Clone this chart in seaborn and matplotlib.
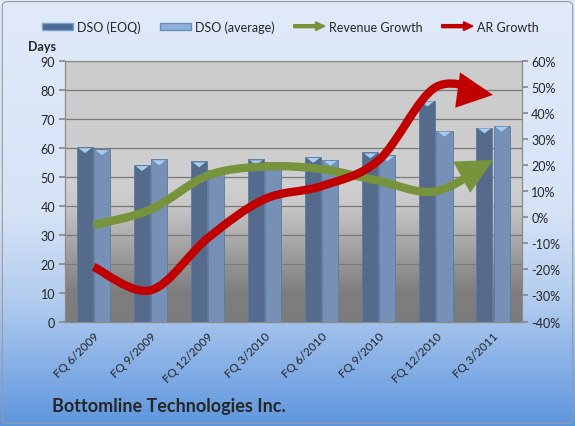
import numpy as np
import matplotlib
matplotlib.use('Agg')
import matplotlib.pyplot as plt
import matplotlib.patches as mpatches
from matplotlib.path import Path
from matplotlib.legend_handler import HandlerPatch
import matplotlib.colors as mcolors
import pandas as pd
import seaborn as sns


# ==========================
# DADOS
# ==========================

quarters = ['FQ 6/2009', 'FQ 9/2009', 'FQ 12/2009', 'FQ 3/2010',
            'FQ 6/2010', 'FQ 9/2010', 'FQ 12/2010', 'FQ 3/2011']

dso_eoq = [60.2, 54.0, 55.3, 56.0, 56.8, 58.4, 76.3, 67.0]
dso_avg = [59.5, 56.0, 52.5, 55.2, 55.8, 57.4, 65.9, 67.6]

revenue_growth = [-3, 3, 16, 19.5, 18.5, 14, 10, 22]
ar_growth = [-19, -28, -8, 7, 12, 22, 50, 47]

# ==========================
# CONFIGURAÇÕES
# ==========================

sns.set_theme(style='white')
plt.rcParams['font.family'] = ['Lato', 'DejaVu Sans']

C_EOQ = '#4a6a96'
C_AVG = '#6b8fc0'
C_GREEN = '#77933c'
C_RED = '#c00000'

fig = plt.figure(figsize=(5.75, 4.27), dpi=100)

# fundo da figura (gradiente azul)
bg = fig.add_axes([0, 0, 1, 1], zorder=-10)
bg.axis('off')
cmap_bg = mcolors.LinearSegmentedColormap.from_list(
    'bg', [(0, '#5e96de'), (0.3, '#b4cdef'), (0.5, '#d6e3f7'), (1, '#e0eafa')]
)
bg.imshow(np.linspace(0, 1, 256).reshape(-1, 1), aspect='auto', cmap=cmap_bg,
          origin='lower', extent=[0, 1, 0, 1])
bg.set_xlim(0, 1)
bg.set_ylim(0, 1)
bg.add_patch(mpatches.FancyBboxPatch(
    (0.004, 0.006), 0.992, 0.988, boxstyle='round,pad=0,rounding_size=0.01',
    fill=False, edgecolor='#9a9a9a', linewidth=0.8, transform=bg.transAxes))

ax = fig.add_axes([0.113, 0.2447, 0.794, 0.610])

# fundo do gráfico (gradiente cinza)
cmap_pa = mcolors.LinearSegmentedColormap.from_list(
    'pa', [(0, '#7b7b7b'), (0.12, '#7f7f7f'), (0.45, '#c8c8c8'),
           (0.52, '#cfcfcf'), (1, '#cbcbcb')]
)
ax.imshow(np.linspace(0, 1, 256).reshape(-1, 1), aspect='auto', cmap=cmap_pa,
          origin='lower', extent=[0, 1, 0, 1], transform=ax.transAxes,
          zorder=0)

# ==========================
# BARRAS
# ==========================

df = pd.DataFrame({
    'quarter': quarters * 2,
    'dso': dso_eoq + dso_avg,
    'serie': ['DSO (EOQ)'] * len(quarters) + ['DSO (average)'] * len(quarters),
})

sns.barplot(
    data=df, x='quarter', y='dso', hue='serie',
    palette=[C_EOQ, C_AVG], width=0.6, gap=0.06,
    edgecolor='#5d7aa3', linewidth=0.6, legend=False, ax=ax, zorder=3
)

# brilho no topo das barras
for p in ax.patches:
    if isinstance(p, mpatches.Rectangle) and p.get_height() > 0:
        x0, w, h = p.get_x(), p.get_width(), p.get_height()
        ax.add_patch(mpatches.Polygon(
            [(x0 + w * 0.1, h - 0.3), (x0 + w * 0.9, h - 0.3),
             (x0 + w * 0.5, h - 2.0)],
            closed=True, facecolor='#a9cdf2', edgecolor='none', zorder=4))

ax.set_ylim(0, 90)
ax.set_xlim(-0.5, len(quarters) - 0.5)
ax.set_yticks(range(0, 91, 10))
ax.grid(axis='y', color='#7a7a7a', linewidth=0.9, zorder=1)
ax.set_axisbelow(True)
ax.set_xlabel('')
ax.set_ylabel('')

ax.set_xticks(range(len(quarters)))
ax.set_xticklabels(quarters, rotation=45, ha='right', rotation_mode='anchor',
                   fontsize=8.5)
ax.set_xticks(np.arange(-0.5, len(quarters), 1), minor=True)
ax.tick_params(axis='x', which='major', length=0, pad=6)
ax.tick_params(axis='x', which='minor', length=4, color='#8a8a8a', width=0.8)
ax.tick_params(axis='y', length=4, color='#8a8a8a', labelsize=9, pad=3,
               left=True)

for s in ax.spines.values():
    s.set_color('#8a8a8a')
    s.set_linewidth(0.8)

ax.text(-0.081, 1.035, 'Days', transform=ax.transAxes, fontsize=9,
        fontweight='bold', ha='left', va='bottom')

# ==========================
# LINHAS (EIXO SECUNDÁRIO)
# ==========================

ax2 = ax.twinx()
ax2.set_ylim(-40, 60)
ax2.set_yticks(range(-40, 61, 10))
ax2.set_yticklabels([f'{v}%' for v in range(-40, 61, 10)])
ax2.tick_params(axis='y', length=4, color='#8a8a8a', labelsize=9, pad=3,
                right=True)
ax2.grid(False)
for s in ax2.spines.values():
    s.set_color('#8a8a8a')
    s.set_linewidth(0.8)


def smooth_path(xs, ys):
    pts = np.column_stack([xs, ys]).astype(float)
    ext = np.vstack([pts[0], pts, pts[-1]])
    verts = [pts[0]]
    codes = [Path.MOVETO]
    for i in range(1, len(ext) - 2):
        p0, p1, p2, p3 = ext[i - 1], ext[i], ext[i + 1], ext[i + 2]
        verts += [p1 + (p2 - p0) / 6, p2 - (p3 - p1) / 6, p2]
        codes += [Path.CURVE4] * 3
    return Path(verts, codes)


xs = np.arange(len(quarters))
for vals, col in [(revenue_growth, C_GREEN), (ar_growth, C_RED)]:
    arrow = mpatches.FancyArrowPatch(
        path=smooth_path(xs, vals),
        arrowstyle='-|>,head_length=0.8,head_width=0.4',
        mutation_scale=20, color=col, linewidth=6.0,
        joinstyle='miter', capstyle='butt', zorder=5)
    ax2.add_patch(arrow)

# ==========================
# LEGENDA
# ==========================


def make_arrow(legend, orig_handle, xdescent, ydescent, width, height, fontsize):
    return mpatches.FancyArrow(
        -xdescent, height / 2 - ydescent, width, 0, width=height * 0.45,
        head_width=height * 1.3, head_length=width * 0.3,
        length_includes_head=True)


handles = [
    mpatches.Rectangle((0, 0), 1, 1, facecolor=C_EOQ, edgecolor='#7fa0cc'),
    mpatches.Rectangle((0, 0), 1, 1, facecolor='#8eb0dc', edgecolor='#6b8fc0'),
    mpatches.FancyArrow(0, 0, 1, 0, color=C_GREEN),
    mpatches.FancyArrow(0, 0, 1, 0, color=C_RED),
]
labels = ['DSO (EOQ)', 'DSO (average)', 'Revenue Growth', 'AR Growth']

fig.legend(
    handles, labels, loc='center', bbox_to_anchor=(0.505, 0.936), ncol=4,
    frameon=False, fontsize=9, handlelength=2.5, handleheight=0.45,
    columnspacing=1.5, handletextpad=0.35,
    handler_map={mpatches.FancyArrow: HandlerPatch(patch_func=make_arrow)}
)

fig.text(0.09, 0.034, 'Bottomline Technologies Inc.', fontsize=13,
         fontweight='bold', ha='left', va='baseline')

plt.savefig('out.png', dpi=100)
plt.close()
